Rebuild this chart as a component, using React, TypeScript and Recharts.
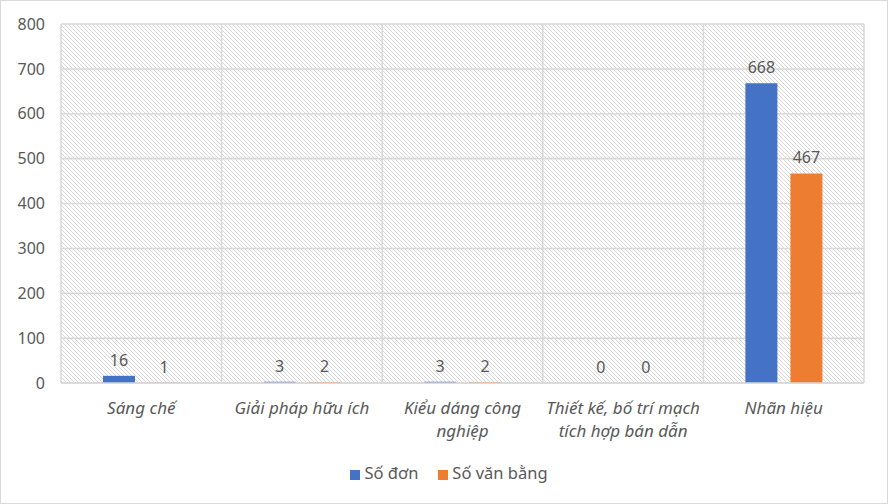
import React from 'react';
import {
  Bar,
  BarChart,
  CartesianGrid,
  LabelList,
  Legend,
  Text,
  XAxis,
  YAxis
} from 'recharts';

const categories = [
  'Sáng chế',
  'Giải pháp hữu ích',
  'Kiểu dáng công nghiệp',
  'Thiết kế, bố trí mạch tích hợp bán dẫn',
  'Nhãn hiệu'
];
const soDon = [16, 3, 3, 0, 668];
const soVanBang = [1, 2, 2, 0, 467];
const yTicks = [0, 100, 200, 300, 400, 500, 600, 700, 800];

const data = categories.map((name, i) => ({ name, soDon: soDon[i], soVanBang: soVanBang[i] }));

const FONT = '"Noto Sans", "Open Sans", sans-serif';
const TEXT = '#595959';
const GRID = '#d9d9d9';

const tickStyle = { fontSize: 17, fontStyle: 'italic', fontFamily: FONT };

const CategoryTick = (props: any) => {
  const { x, y, payload } = props;
  return (
    <Text
      x={x}
      y={y}
      width={158}
      textAnchor="middle"
      verticalAnchor="start"
      fontSize={17}
      fontStyle="italic"
      fontFamily={FONT}
      style={tickStyle}
      fill={TEXT}
      lineHeight={23}
    >
      {payload.value}
    </Text>
  );
};

// keep zero-value bars in the layout so their labels still show
const zeroMin = (value: any) => (value === 0 ? 0.01 : 0);

const App = () => (
  <div style={{ position: 'absolute', left: 0, top: 0, width: 888, height: 504, background: '#fff' }}>
    <svg width={0} height={0} style={{ position: 'absolute' }}>
      <defs>
        <pattern id="hatch" patternUnits="userSpaceOnUse" width="4" height="4">
          <rect width="4" height="4" fill="#ffffff" />
          <path d="M-1,-1 L5,5 M-1,3 L1,5 M3,-1 L5,1" stroke="#d6d6d6" strokeWidth="1" />
        </pattern>
      </defs>
    </svg>
    <BarChart
      width={888}
      height={504}
      data={data}
      margin={{ top: 24, right: 24, left: 0, bottom: 22 }}
      barGap={13}
      barSize={32}
    >
      <CartesianGrid
        fill="url(#hatch)"
        fillOpacity={1}
        stroke={GRID}
        strokeWidth={1.5}
        verticalCoordinatesGenerator={({ offset }: any) =>
          categories.map((_, i) => offset.left + (offset.width * i) / categories.length).concat(offset.left + offset.width)
        }
      />
      <XAxis
        dataKey="name"
        tick={<CategoryTick />}
        tickLine={false}
        axisLine={{ stroke: GRID, strokeWidth: 1.5 }}
        tickMargin={13}
        height={76}
        interval={0}
      />
      <YAxis
        domain={[0, 800]}
        ticks={yTicks}
        width={61}
        tickLine={false}
        axisLine={false}
        tickSize={0}
        tickMargin={16}
        tick={{ fill: TEXT, fontSize: 16, fontFamily: FONT }}
      />
      <Legend
        verticalAlign="bottom"
        align="center"
        iconType="square"
        iconSize={10}
        itemSorter={null as any}
        wrapperStyle={{
          fontFamily: FONT,
          fontSize: 16.5,
          color: TEXT,
          left: 0,
          width: 888,
          paddingLeft: 30,
          boxSizing: 'border-box',
          marginBottom: -2
        }}
        formatter={(value: string) => <span style={{ color: TEXT, marginRight: 10 }}>{value}</span>}
      />
      <Bar dataKey="soDon" name="Số đơn" fill="#4472C4" minPointSize={zeroMin} isAnimationActive={false}>
        <LabelList dataKey="soDon" position="top" offset={10} fill={TEXT} fontSize={16} fontFamily={FONT} />
      </Bar>
      <Bar dataKey="soVanBang" name="Số văn bằng" fill="#ED7D31" minPointSize={zeroMin} isAnimationActive={false}>
        <LabelList dataKey="soVanBang" position="top" offset={10} fill={TEXT} fontSize={16} fontFamily={FONT} />
      </Bar>
    </BarChart>
    <div
      style={{
        position: 'absolute',
        left: 0,
        top: 0,
        width: 888,
        height: 504,
        boxSizing: 'border-box',
        border: `1px solid ${GRID}`,
        pointerEvents: 'none'
      }}
    />
  </div>
);

export default App;
